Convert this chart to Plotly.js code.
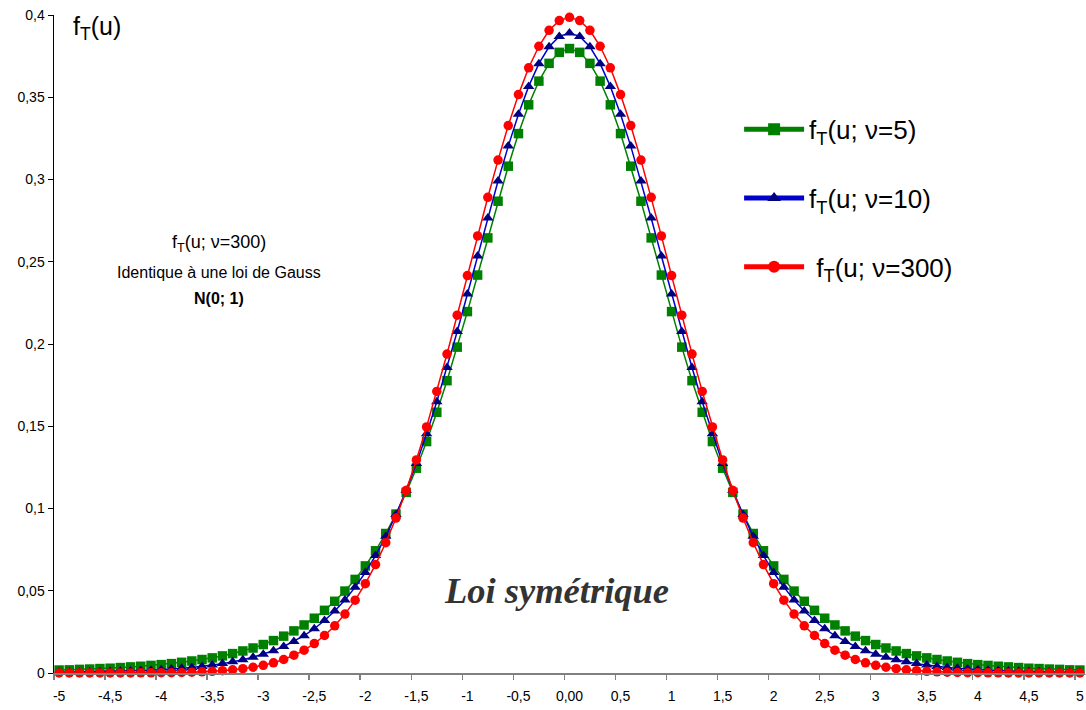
<!DOCTYPE html>
<html>
<head>
<meta charset="utf-8">
<script src="https://cdn.plot.ly/plotly-3.0.1.min.js"></script>
<style>html,body{margin:0;padding:0;background:#fff;}#chart{width:1086px;height:710px;}</style>
</head>
<body>
<div id="chart"></div>
<script>
// u values (-5 to 5, step 0.1)
var u = [-5,-4.9,-4.8,-4.7,-4.6,-4.5,-4.4,-4.3,-4.2,-4.1,-4,-3.9,-3.8,-3.7,-3.6,-3.5,-3.4,-3.3,-3.2,-3.1,-3,-2.9,-2.8,-2.7,-2.6,-2.5,-2.4,-2.3,-2.2,-2.1,-2,-1.9,-1.8,-1.7,-1.6,-1.5,-1.4,-1.3,-1.2,-1.1,-1,-0.9,-0.8,-0.7,-0.6,-0.5,-0.4,-0.3,-0.2,-0.1,0,0.1,0.2,0.3,0.4,0.5,0.6,0.7,0.8,0.9,1,1.1,1.2,1.3,1.4,1.5,1.6,1.7,1.8,1.9,2,2.1,2.2,2.3,2.4,2.5,2.6,2.7,2.8,2.9,3,3.1,3.2,3.3,3.4,3.5,3.6,3.7,3.8,3.9,4,4.1,4.2,4.3,4.4,4.5,4.6,4.7,4.8,4.9,5];

// f_T(u; nu=5)
var fNu5 = [0.0018,0.0019,0.0022,0.0024,0.0027,0.0029,0.0033,0.0037,0.0041,0.0046,0.0051,0.0057,0.0065,0.0073,0.0082,0.0092,0.0104,0.0118,0.0134,0.0152,0.0173,0.0197,0.0224,0.0256,0.0292,0.0333,0.0381,0.0436,0.0498,0.0569,0.0651,0.0743,0.0848,0.0966,0.1098,0.1245,0.1407,0.1585,0.1777,0.1981,0.2197,0.2419,0.2645,0.2868,0.3081,0.3279,0.3454,0.3598,0.3706,0.3773,0.3796,0.3773,0.3706,0.3598,0.3454,0.3279,0.3081,0.2868,0.2645,0.2419,0.2197,0.1981,0.1777,0.1585,0.1407,0.1245,0.1098,0.0966,0.0848,0.0743,0.0651,0.0569,0.0498,0.0436,0.0381,0.0333,0.0292,0.0256,0.0224,0.0197,0.0173,0.0152,0.0134,0.0118,0.0104,0.0092,0.0082,0.0073,0.0065,0.0057,0.0051,0.0046,0.0041,0.0037,0.0033,0.0029,0.0027,0.0024,0.0022,0.0019,0.0018];

// f_T(u; nu=10)
var fNu10 = [0.0004,0.0005,0.0005,0.0006,0.0008,0.0009,0.0010,0.0012,0.0015,0.0017,0.0020,0.0024,0.0029,0.0034,0.0040,0.0048,0.0057,0.0068,0.0081,0.0096,0.0114,0.0136,0.0161,0.0192,0.0227,0.0269,0.0319,0.0377,0.0444,0.0522,0.0611,0.0714,0.0831,0.0963,0.1111,0.1274,0.1454,0.1649,0.1857,0.2076,0.2304,0.2535,0.2766,0.2991,0.3203,0.3397,0.3566,0.3704,0.3807,0.3870,0.3891,0.3870,0.3807,0.3704,0.3566,0.3397,0.3203,0.2991,0.2766,0.2535,0.2304,0.2076,0.1857,0.1649,0.1454,0.1274,0.1111,0.0963,0.0831,0.0714,0.0611,0.0522,0.0444,0.0377,0.0319,0.0269,0.0227,0.0192,0.0161,0.0136,0.0114,0.0096,0.0081,0.0068,0.0057,0.0048,0.0040,0.0034,0.0029,0.0024,0.0020,0.0017,0.0015,0.0012,0.0010,0.0009,0.0008,0.0006,0.0005,0.0005,0.0004];

// f_T(u; nu=300)
var fNu300 = [0,0,0.00001,0.00001,0.00001,0.00002,0.00003,0.00005,0.0001,0.0001,0.0002,0.0002,0.0003,0.0005,0.0007,0.0010,0.0014,0.0019,0.0026,0.0035,0.0047,0.0062,0.0082,0.0108,0.0139,0.0179,0.0228,0.0287,0.0358,0.0443,0.0543,0.0659,0.0792,0.0942,0.1110,0.1295,0.1496,0.1712,0.1939,0.2175,0.2416,0.2657,0.2892,0.3118,0.3328,0.3516,0.3679,0.3810,0.3907,0.3966,0.3986,0.3966,0.3907,0.3810,0.3679,0.3516,0.3328,0.3118,0.2892,0.2657,0.2416,0.2175,0.1939,0.1712,0.1496,0.1295,0.1110,0.0942,0.0792,0.0659,0.0543,0.0443,0.0358,0.0287,0.0228,0.0179,0.0139,0.0108,0.0082,0.0062,0.0047,0.0035,0.0026,0.0019,0.0014,0.0010,0.0007,0.0005,0.0003,0.0002,0.0002,0.0001,0.0001,0.00005,0.00003,0.00002,0.00001,0.00001,0.00001,0,0];

var seriesNames = ['f<sub>T</sub>(u; \u03bd=5)', 'f<sub>T</sub>(u; \u03bd=10)', ' f<sub>T</sub>(u; \u03bd=300)'];
var xTickVals = [-5,-4.5,-4,-3.5,-3,-2.5,-2,-1.5,-1,-0.5,0,0.5,1,1.5,2,2.5,3,3.5,4,4.5,5];
var xTickText = ['-5','-4,5','-4','-3,5','-3','-2,5','-2','-1,5','-1','-0,5','0,00','0,5','1','1,5','2','2,5','3','3,5','4','4,5','5'];

var FONT = 'Liberation Sans, Arial, sans-serif';

var traces = [
  {x: u, y: fNu5, name: seriesNames[0], type: 'scatter', mode: 'lines+markers', legendgroup: 'g1',
   line: {color: '#008000', width: 1.5}, marker: {symbol: 'square', size: 9.5, color: '#008000'}, cliponaxis: false},
  {x: u, y: fNu10, name: seriesNames[1], type: 'scatter', mode: 'lines+markers', legendgroup: 'g2',
   line: {color: '#0000CD', width: 1.5}, marker: {symbol: 'triangle-up', size: 10, color: '#000080'}, cliponaxis: false},
  {x: u, y: fNu300, name: seriesNames[2], type: 'scatter', mode: 'lines+markers', legendgroup: 'g3',
   line: {color: '#FF0000', width: 1.5}, marker: {symbol: 'circle', size: 9.5, color: '#FF0000'}, cliponaxis: false}
];

var layout = {
  width: 1086, height: 710,
  margin: {l: 54, r: 1, t: 15, b: 37},
  paper_bgcolor: '#ffffff', plot_bgcolor: '#ffffff',
  separators: ', ',
  font: {family: FONT, size: 14, color: '#000'},
  showlegend: true,
  legend: {x: 0.6645, y: 0.862, xanchor: 'left', yanchor: 'top', bgcolor: 'rgba(0,0,0,0)',
           font: {family: FONT, size: 26, color: '#000'}, traceorder: 'grouped', tracegroupgap: 32,
           itemsizing: 'constant', itemwidth: 60},
  xaxis: {range: [-5.05, 5.05], tickmode: 'array', tickvals: xTickVals, ticktext: xTickText,
          ticks: 'outside', ticklen: 9, tickcolor: 'rgba(0,0,0,0)', showgrid: false, zeroline: false,
          showline: true, linecolor: '#808080', linewidth: 2, tickfont: {family: FONT, size: 14, color: '#000'},
          minor: {tick0: -5.05, dtick: 0.5, ticks: 'outside', ticklen: 5, tickcolor: '#808080', tickwidth: 1.5, showgrid: false},
          fixedrange: true},
  yaxis: {range: [0, 0.4], dtick: 0.05, tick0: 0, ticks: 'outside', ticklen: 5, tickcolor: '#000', tickwidth: 1,
          showgrid: false, zeroline: false, showline: true, linecolor: '#000', linewidth: 1.5,
          tickfont: {family: FONT, size: 14, color: '#000'}, fixedrange: true},
  annotations: [
    {text: 'f<sub>T</sub>(u)', xref: 'paper', yref: 'paper', x: 0.0165, y: 0.98, xanchor: 'left', yanchor: 'middle',
     showarrow: false, font: {family: FONT, size: 25, color: '#000'}},
    {text: 'f<sub>T</sub>(u; \u03bd=300)', xref: 'paper', yref: 'paper', x: 0.160, y: 0.653, xanchor: 'center', yanchor: 'middle',
     showarrow: false, font: {family: FONT, size: 18, color: '#000'}},
    {text: 'Identique à une loi de Gauss', xref: 'paper', yref: 'paper', x: 0.160, y: 0.609, xanchor: 'center', yanchor: 'middle',
     showarrow: false, font: {family: FONT, size: 16, color: '#000'}},
    {text: '<b>N(0; 1)</b>', xref: 'paper', yref: 'paper', x: 0.160, y: 0.5695, xanchor: 'center', yanchor: 'middle',
     showarrow: false, font: {family: FONT, size: 16, color: '#000'}},
    {text: '<b><i>Loi symétrique</i></b>', xref: 'paper', yref: 'paper', x: 0.4875, y: 0.1257, xanchor: 'center', yanchor: 'middle',
     showarrow: false, font: {family: 'Liberation Serif, Times New Roman, serif', size: 36.5, color: '#333333'}}
  ]
};

Plotly.newPlot('chart', traces, layout, {displayModeBar: false, staticPlot: true});
</script>
</body>
</html>
